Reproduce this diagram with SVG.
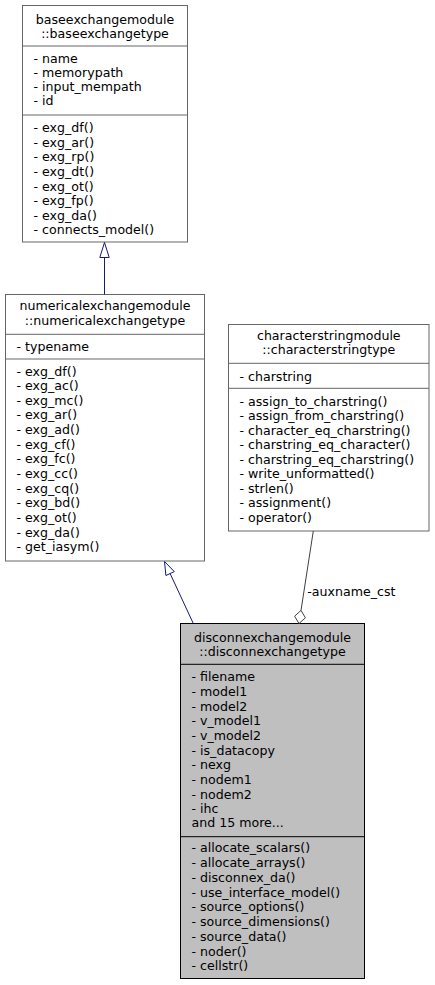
<svg xmlns="http://www.w3.org/2000/svg" width="435" height="985" viewBox="0 0 435 985">
<style>
text{font-family:"DejaVu Sans",sans-serif;font-size:12.6px;fill:#000}
.t{text-anchor:middle}
.box{fill:#fff;stroke:#666666;stroke-width:1}
.cur{fill:#bfbfbf;stroke:#000;stroke-width:1}
.sep{stroke:#666666;stroke-width:1}
.sepc{stroke:#000;stroke-width:1}
.inh{stroke:#191970;stroke-width:1;fill:none}
.inhh{stroke:#191970;stroke-width:1;fill:#fff}
.agg{stroke:#404040;stroke-width:1;fill:none}
.aggh{stroke:#404040;stroke-width:1;fill:#fff}
</style>
<rect width="435" height="985" fill="#fff"/>
<g id="baseexchangetype">
<rect class="box" x="22.5" y="5.5" width="165" height="236.5"/>
<line class="sep" x1="22.5" y1="46" x2="187.5" y2="46"/>
<line class="sep" x1="22.5" y1="115" x2="187.5" y2="115"/>
<text class="t" x="105" y="23.8">baseexchangemodule</text>
<text class="t" x="105" y="38.4">::baseexchangetype</text>
<text x="33.5" y="62.5">- name</text>
<text x="33.5" y="76.5">- memorypath</text>
<text x="33.5" y="90.5">- input_mempath</text>
<text x="33.5" y="104.5">- id</text>
<text x="33.5" y="132.2">- exg_df()</text>
<text x="33.5" y="146.8">- exg_ar()</text>
<text x="33.5" y="161.4">- exg_rp()</text>
<text x="33.5" y="176">- exg_dt()</text>
<text x="33.5" y="190.6">- exg_ot()</text>
<text x="33.5" y="205.2">- exg_fp()</text>
<text x="33.5" y="219.8">- exg_da()</text>
<text x="33.5" y="234.4">- connects_model()</text>
</g>
<g id="numericalexchangetype">
<rect class="box" x="5.5" y="294.5" width="199" height="266.5"/>
<line class="sep" x1="5.5" y1="334.3" x2="204.5" y2="334.3"/>
<line class="sep" x1="5.5" y1="359" x2="204.5" y2="359"/>
<text class="t" x="105" y="310">numericalexchangemodule</text>
<text class="t" x="105" y="324.6">::numericalexchangetype</text>
<text x="16.5" y="350.5">- typename</text>
<text x="16.5" y="375.5">- exg_df()</text>
<text x="16.5" y="390.1">- exg_ac()</text>
<text x="16.5" y="404.8">- exg_mc()</text>
<text x="16.5" y="419.4">- exg_ar()</text>
<text x="16.5" y="434.1">- exg_ad()</text>
<text x="16.5" y="448.7">- exg_cf()</text>
<text x="16.5" y="463.3">- exg_fc()</text>
<text x="16.5" y="478">- exg_cc()</text>
<text x="16.5" y="492.6">- exg_cq()</text>
<text x="16.5" y="507.3">- exg_bd()</text>
<text x="16.5" y="521.9">- exg_ot()</text>
<text x="16.5" y="536.5">- exg_da()</text>
<text x="16.5" y="551.2">- get_iasym()</text>
</g>
<g id="characterstringtype">
<rect class="box" x="228.5" y="324.5" width="200.5" height="206.5"/>
<line class="sep" x1="228.5" y1="363.3" x2="429" y2="363.3"/>
<line class="sep" x1="228.5" y1="388.3" x2="429" y2="388.3"/>
<text class="t" x="328.8" y="339.5">characterstringmodule</text>
<text class="t" x="328.8" y="354.1">::characterstringtype</text>
<text x="239.5" y="380.5">- charstring</text>
<text x="239.5" y="405.5">- assign_to_charstring()</text>
<text x="239.5" y="420">- assign_from_charstring()</text>
<text x="239.5" y="434.6">- character_eq_charstring()</text>
<text x="239.5" y="449.2">- charstring_eq_character()</text>
<text x="239.5" y="463.7">- charstring_eq_charstring()</text>
<text x="239.5" y="478.3">- write_unformatted()</text>
<text x="239.5" y="492.8">- strlen()</text>
<text x="239.5" y="507.4">- assignment()</text>
<text x="239.5" y="521.9">- operator()</text>
</g>
<g id="disconnexchangetype">
<rect class="cur" x="180.5" y="623.5" width="184" height="355"/>
<line class="sepc" x1="180.5" y1="664.3" x2="364.5" y2="664.3"/>
<line class="sepc" x1="180.5" y1="836.7" x2="364.5" y2="836.7"/>
<text class="t" x="272.5" y="641.5">disconnexchangemodule</text>
<text class="t" x="272.5" y="656.1">::disconnexchangetype</text>
<text x="191.5" y="681.2">- filename</text>
<text x="191.5" y="695.9">- model1</text>
<text x="191.5" y="710.5">- model2</text>
<text x="191.5" y="725.2">- v_model1</text>
<text x="191.5" y="739.9">- v_model2</text>
<text x="191.5" y="754.5">- is_datacopy</text>
<text x="191.5" y="769.2">- nexg</text>
<text x="191.5" y="783.9">- nodem1</text>
<text x="191.5" y="798.5">- nodem2</text>
<text x="191.5" y="813.2">- ihc</text>
<text x="191.5" y="827.2">and 15 more...</text>
<text x="191.5" y="852.2">- allocate_scalars()</text>
<text x="191.5" y="867">- allocate_arrays()</text>
<text x="191.5" y="881.7">- disconnex_da()</text>
<text x="191.5" y="896.5">- use_interface_model()</text>
<text x="191.5" y="911.2">- source_options()</text>
<text x="191.5" y="926">- source_dimensions()</text>
<text x="191.5" y="940.7">- source_data()</text>
<text x="191.5" y="955.5">- noder()</text>
<text x="191.5" y="970.2">- cellstr()</text>
</g>
<g id="connectors">
<line class="inh" x1="104.5" y1="294.5" x2="104.5" y2="257.5"/>
<polygon class="inhh" points="104.5,242.5 109.2,257.5 99.8,257.5"/>
<line class="inh" x1="193.3" y1="623.5" x2="170.1" y2="573.5"/>
<polygon class="inhh" points="164.5,561.5 174.3,571.6 165.9,575.5"/>
<line class="agg" x1="313.3" y1="531" x2="301" y2="610.4"/>
<polygon class="aggh" points="301,610.4 305.4,617.8 299,623.5 294.6,616.2"/>
<text x="307.3" y="596">-auxname_cst</text>
</g>
</svg>
